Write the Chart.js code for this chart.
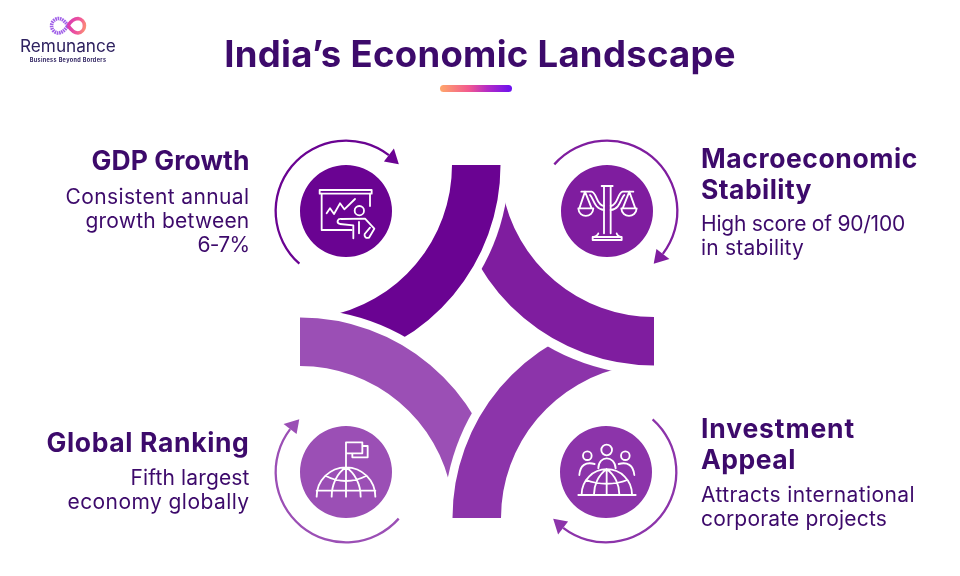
<!DOCTYPE html>
<html><head><meta charset="utf-8">
<script src="https://cdn.jsdelivr.net/npm/chart.js@4"></script>
<style>
html,body{margin:0;padding:0;background:#fff;width:960px;height:576px;overflow:hidden}
#stage{position:relative;width:960px;height:576px;overflow:hidden;font-family:Inter,sans-serif;color:#3d0a6b}
canvas{position:absolute;display:block}
.t{position:absolute;white-space:nowrap}
svg{position:absolute;left:0;top:0}
</style></head><body>
<div id="stage">
<svg width="960" height="576" viewBox="0 0 960 576" style="z-index:5" fill="none">
<defs><linearGradient id="lg" x1="68" y1="25" x2="88" y2="30" gradientUnits="userSpaceOnUse"><stop offset="0" stop-color="#d93bb0"/><stop offset=".5" stop-color="#f0579a"/><stop offset="1" stop-color="#ffa566"/></linearGradient></defs>
<path d="M68 25.500C64 20 61 18.500 58 18.500A7.300 7.300 0 0 0 58 33C62 33 65 30 68 25.500" stroke="#a060e8" stroke-width="3.600" stroke-dasharray="1.600 .7"/>
<path d="M68 25.500C71 21 74 18.500 78 18.500A7.300 7.300 0 0 1 78 33C74 33 71 30 68 25.500" stroke="url(#lg)" stroke-width="3.600"/>
<g transform="translate(290 150) scale(.33333)" stroke="#fff" stroke-width="5.500" stroke-linecap="round" stroke-linejoin="round">
<!-- presenter -->
<rect x="89" y="120" width="156" height="11"/>
<path d="M95 131V240H185M240 131V168"/>
<path d="M110 190L120 175L132 192L150 160L163 178L195 147"/>
<circle cx="208" cy="182" r="14"/>
<path d="M190 265V226L150 222C138 218 142 205 155 207L225 206L253 236L237 263C228 266 222 260 224 252L240 233"/>
<path d="M207 216V250"/>
<!-- scales -->
<path d="M935 108H968M942 108V250M962 108V250M925 250C925 255 915 260 910 261H993C988 260 980 255 980 250M908 261V270H995V261"/>
<path d="M874 125H905C922 130 918 165 942 168M900 135C910 142 912 178 942 180M1030 125H998C981 130 985 165 962 168M1003 135C993 142 991 178 962 180"/>
<path d="M885 125L868 175M885 125L905 175M865 175H910C908 205 867 205 865 175M1018 125L998 175M1018 125L1036 175M994 175H1040C1038 205 996 205 994 175"/>
<!-- people globe -->
<circle cx="950" cy="900" r="16"/><circle cx="892" cy="917" r="13"/><circle cx="1006" cy="917" r="13"/>
<path d="M925 955C925 915 975 915 977 955M868 975C870 945 888 935 914 942M1033 975C1030 945 1012 935 986 942"/>
<path d="M875 1033A75 75 0 0 1 1026 1033M865 1035H1037M950 958V1033M950 958C925 975 912 1005 912 1033M950 958C975 975 988 1005 988 1033M888 990C925 1005 975 1005 1012 990"/>
<!-- flag globe -->
<path d="M168 955V877H217V910H168M217 888H233V922H187V910"/>
<path d="M80 1040A88 88 0 0 1 256 1040M80 1022H256M168 952V1040M168 952C140 970 125 1005 125 1040M168 952C196 970 212 1005 212 1040M108 978C145 998 190 998 228 978"/>
</g></svg>
<div id="bar" style="position:absolute;left:440px;top:85px;width:72px;height:7px;border-radius:4px;background:linear-gradient(90deg,#ffa76a 0%,#f2598f 40%,#b62cc4 65%,#6a10f0 100%)"></div>
</div>
<script>
// ---- data ----
const categories = ['GDP Growth', 'Macroeconomic Stability', 'Investment Appeal', 'Global Ranking'];
const petalValues = [80, 80, 80, 80];
const ringValues = [176, 176, 176, 176];
const circleValues = [100, 100, 100, 100];
const colors = ['#6a0392', '#7f1d9f', '#8c34aa', '#9b4fb5'];
// ---- layout ----
const petalCentres = [[298,165],[654,163],[655,518],[300,520]];
const petalRotation = [90,180,270,0];
const cutRadius = [211,211,212,211];
const iconCentres = [[346,211],[607.3,211],[606,472],[346,472]];
const ringRotation = [221.5,311.5,41.5,131.5];
const stage = document.getElementById('stage');
Chart.defaults.animation = false;
function mk(w,h,cx,cy,z){const c=document.createElement('canvas');c.width=w;c.height=h;c.style.width=w+'px';c.style.height=h+'px';c.style.left=(cx-w/2)+'px';c.style.top=(cy-h/2)+'px';c.style.zIndex=z;stage.appendChild(c);return c;}
const baseOpts={responsive:false,maintainAspectRatio:false,events:[],plugins:{legend:{display:false},tooltip:{enabled:false}},layout:{padding:0}};
categories.forEach((name,i)=>{
  const [cx,cy]=petalCentres[i], next=petalCentres[(i+3)%4];
  new Chart(mk(500,500,cx,cy,1),{type:'doughnut',
    data:{labels:[name,''],datasets:[{data:[petalValues[i],360-petalValues[i]],backgroundColor:[colors[i],'rgba(0,0,0,0)'],borderWidth:0}]},
    options:{...baseOpts,radius:202.5,cutout:'76.05%',rotation:petalRotation[i]},
    plugins:[{id:'cut',afterDatasetsDraw(ch){const g=ch.ctx;g.save();g.globalCompositeOperation='destination-out';g.beginPath();g.arc(next[0]-cx+ch.width/2,next[1]-cy+ch.height/2,cutRadius[i],0,Math.PI*2);g.fill();g.restore();}}]});
  const [ix,iy]=iconCentres[i];
  new Chart(mk(200,200,ix,iy,2),{type:'doughnut',
    data:{labels:[name,''],datasets:[
      {weight:2.3,rotation:ringRotation[i],data:[ringValues[i],360-ringValues[i]],backgroundColor:[colors[i],'rgba(0,0,0,0)'],borderWidth:0},
      {weight:23.2,data:[1],backgroundColor:['rgba(0,0,0,0)'],borderWidth:0},
      {weight:46,data:[circleValues[i]],backgroundColor:[colors[i]],borderWidth:0}]},
    options:{...baseOpts,radius:71.5,cutout:0},
    plugins:[{id:'head',afterDatasetsDraw(ch){
      const a=ch.getDatasetMeta(0).data[0],g=ch.ctx,e=a.endAngle,r=70.5,x=a.x,y=a.y;
      const bx=x+r*Math.cos(e),by=y+r*Math.sin(e),tp=e+11*Math.PI/180;
      g.save();g.fillStyle=colors[i];g.beginPath();
      g.moveTo(x+r*Math.cos(tp),y+r*Math.sin(tp));
      g.lineTo(bx+8.2*Math.cos(e),by+8.2*Math.sin(e));
      g.lineTo(bx-8.2*Math.cos(e),by-8.2*Math.sin(e));
      g.closePath();g.fill();g.restore();}}]});
});
// ---- text ----
const headings=[['GDP Growth'],['Macroeconomic','Stability'],['Investment','Appeal'],['Global Ranking']];
const headWidths=[[158],[217,111],[154,95],[203]];
const bodies=[['Consistent annual','growth between','6-7%'],['High score of 90/100','in stability'],['Attracts international','corporate projects'],['Fifth largest','economy globally']];
const bodyWidths=[[184,164,52],[204,103],[214,186],[119,182]];
const headY=[161,158.5,428.5,442.5], bodyY=[197,223.5,495,478], anchorX=[249.5,701,701,249.5];
function text(s,x,cy,size,weight,align,extra,fit){const d=document.createElement('div');d.className='t';d.textContent=s;
  d.style.cssText+=`font-size:${size}px;font-weight:${weight};line-height:${size*1.2}px;top:${cy-size*0.6}px;z-index:6;`+(align==='r'?`right:${960-x}px;`:align==='c'?`left:${x}px;transform:translateX(-50%);`:`left:${x}px;`)+(extra||'');stage.appendChild(d);
  if(fit){const w=d.getBoundingClientRect().width;d.style.letterSpacing=((fit-w)/s.length)+'px';}
  return d;}
function layoutText(){
headings.forEach((ls,i)=>ls.forEach((s,k)=>text(s,anchorX[i],headY[i]+k*31,26.500,700,i%3===0?'r':'l','',headWidths[i][k])));
bodies.forEach((ls,i)=>ls.forEach((s,k)=>text(s,anchorX[i],bodyY[i]+k*24,21,400,i%3===0?'r':'l','',bodyWidths[i][k])));
text("India’s Economic Landscape",480,55,36.500,700,'c','letter-spacing:.28px;');
text('Remunance',20,46,17.200,400,'l','color:#2f2260;');
text('Business Beyond Borders',68,60,5.500,700,'c','color:#2f2260;letter-spacing:.35px;');
}
layoutText();
</script>
</body></html>
